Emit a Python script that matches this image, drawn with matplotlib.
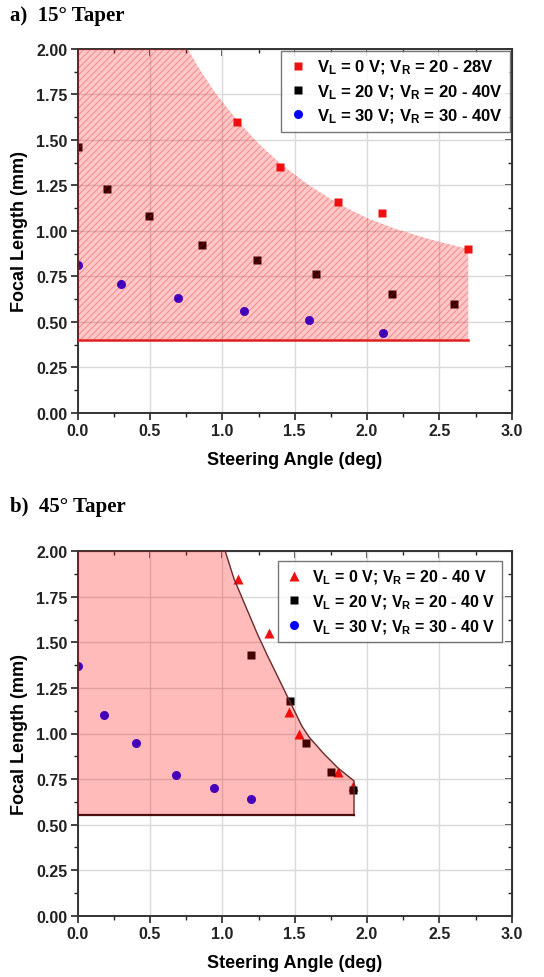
import matplotlib
matplotlib.use("Agg")
import matplotlib.pyplot as plt
from matplotlib.ticker import MultipleLocator

plt.rcParams['font.family'] = ['Liberation Sans', 'DejaVu Sans']
plt.rcParams['font.weight'] = 'bold'
plt.rcParams['mathtext.fontset'] = 'custom'
plt.rcParams['mathtext.rm'] = 'Liberation Sans:bold'
plt.rcParams['mathtext.bf'] = 'Liberation Sans:bold'
plt.rcParams['mathtext.it'] = 'Liberation Sans:bold'
plt.rcParams['mathtext.default'] = 'bf'
plt.rcParams['hatch.linewidth'] = 0.7

# ---------------- Panel a) 15° taper ----------------
a_red_x = [1.10, 1.40, 1.80, 2.10, 2.70]
a_red_y = [1.60, 1.35, 1.16, 1.10, 0.90]
a_blk_x = [0.00, 0.20, 0.49, 0.86, 1.24, 1.65, 2.17, 2.60]
a_blk_y = [1.46, 1.23, 1.08, 0.92, 0.84, 0.76, 0.65, 0.60]
a_blu_x = [0.00, 0.30, 0.69, 1.15, 1.60, 2.11]
a_blu_y = [0.81, 0.71, 0.63, 0.56, 0.51, 0.44]
a_bound_x = [0.00, 0.76, 0.85, 0.95, 1.10, 1.25, 1.40, 1.60, 1.80, 2.00, 2.20, 2.45, 2.70]
a_bound_y = [2.00, 2.00, 1.88, 1.76, 1.61, 1.48, 1.37, 1.25, 1.15, 1.07, 1.01, 0.95, 0.90]
a_floor = 0.40
a_labels = ['V$_{L}$ = 0 V; V$_{R}$ = 20 - 28V',
            'V$_{L}$ = 20 V; V$_{R}$ = 20 - 40V',
            'V$_{L}$ = 30 V; V$_{R}$ = 30 - 40V']

# ---------------- Panel b) 45° taper ----------------
b_red_x = [1.105, 1.32, 1.46, 1.53, 1.80, 1.90]
b_red_y = [1.85, 1.55, 1.12, 1.00, 0.79, 0.71]
b_blk_x = [1.20, 1.47, 1.58, 1.75, 1.90]
b_blk_y = [1.43, 1.18, 0.95, 0.79, 0.69]
b_blu_x = [0.00, 0.18, 0.40, 0.68, 0.94, 1.20]
b_blu_y = [1.37, 1.10, 0.95, 0.77, 0.70, 0.64]
b_bound_x = [0.00, 1.02, 1.08, 1.16, 1.24, 1.31, 1.39, 1.47, 1.55, 1.60, 1.70, 1.80, 1.91]
b_bound_y = [2.00, 2.00, 1.85, 1.70, 1.55, 1.43, 1.30, 1.17, 1.04, 0.98, 0.89, 0.81, 0.74]
b_floor = 0.55
b_labels = ['V$_{L}$ = 0 V; V$_{R}$ = 20 - 40 V',
            'V$_{L}$ = 20 V; V$_{R}$ = 20 - 40 V',
            'V$_{L}$ = 30 V; V$_{R}$ = 30 - 40 V']

x_ticks = [0.0, 0.5, 1.0, 1.5, 2.0, 2.5, 3.0]
y_ticks = [0.00, 0.25, 0.50, 0.75, 1.00, 1.25, 1.50, 1.75, 2.00]

W, H = 544, 978
fig = plt.figure(figsize=(W / 100, H / 100), dpi=100)

def frac_axes(x0, y_top, x1, y_bot):
    return fig.add_axes([x0 / W, 1 - y_bot / H, (x1 - x0) / W, (y_bot - y_top) / H])

ax1 = frac_axes(77.7, 50.0, 511.7, 413.7)
ax2 = frac_axes(77.7, 552.3, 511.7, 916.7)

def style(ax):
    ax.set_xlim(0, 3.0)
    ax.set_ylim(0, 2.0)
    ax.set_xticks(x_ticks)
    ax.set_yticks(y_ticks)
    ax.set_xticklabels([f'{v:.1f}' for v in x_ticks])
    ax.set_yticklabels([f'{v:.2f}' for v in y_ticks])
    ax.xaxis.set_minor_locator(MultipleLocator(0.25))
    ax.yaxis.set_minor_locator(MultipleLocator(0.125))
    ax.grid(True, which='major', color='#d9d9d9', lw=1.0, zorder=0)
    ax.set_axisbelow(True)
    ax.tick_params(which='major', direction='out', length=5, width=1.2,
                   labelsize=11.5, pad=2.5, colors='#222222')
    ax.tick_params(which='minor', direction='out', length=3, width=1.0, colors='#222222')
    for lbl in ax.get_xticklabels() + ax.get_yticklabels():
        lbl.set_fontweight('bold')
    for s in ax.spines.values():
        s.set_linewidth(1.4)
        s.set_color('#333333')
    secx = ax.secondary_xaxis('top')
    secx.set_xticks(x_ticks)
    secx.xaxis.set_minor_locator(MultipleLocator(0.25))
    secx.tick_params(which='major', direction='in', length=5, width=1.2, labeltop=False, colors='#222222')
    secx.tick_params(which='minor', direction='in', length=3, width=1.0, colors='#222222')
    secy = ax.secondary_yaxis('right')
    secy.set_yticks(y_ticks)
    secy.yaxis.set_minor_locator(MultipleLocator(0.125))
    secy.tick_params(which='major', direction='in', length=5, width=1.2, labelright=False, colors='#222222')
    secy.tick_params(which='minor', direction='in', length=3, width=1.0, colors='#222222')
    ax.set_xlabel('Steering Angle (deg)', fontsize=13, fontweight='bold', labelpad=9)
    ax.set_ylabel('Focal Length (mm)', fontsize=13, fontweight='bold', labelpad=6)

style(ax1)
style(ax2)

# Panel a points
ax1.plot(a_red_x, a_red_y, 's', color='#ee1111', ms=5.5, mec='none', zorder=2, label=a_labels[0])
ax1.plot(a_blk_x, a_blk_y, 's', color='black', ms=5.5, mec='none', zorder=2, label=a_labels[1])
ax1.plot(a_blu_x, a_blu_y, 'o', color='#0000ff', ms=6.5, mec='none', zorder=2, label=a_labels[2])
ax1.fill_between(a_bound_x, a_floor, a_bound_y, facecolor=(1, 0, 0, 0.22),
                 edgecolor=(0.85, 0.1, 0.1, 0.35), hatch='/////', lw=0, zorder=3)
ax1.plot([0, a_bound_x[-1]], [a_floor, a_floor], color='#e02020', lw=1.8, zorder=4)
leg1 = ax1.legend(loc='upper right', fontsize=12, frameon=True, fancybox=False,
                  borderaxespad=0.12, handletextpad=0.5, labelspacing=0.35,
                  handlelength=1.2, borderpad=0.42)
leg1.get_frame().set_edgecolor('#555555')
leg1.get_frame().set_linewidth(1.0)
leg1.set_zorder(6)

# Panel b points
ax2.plot(b_red_x, b_red_y, '^', color='#ee1111', ms=7.5, mec='none', zorder=2, label=b_labels[0])
ax2.plot(b_blk_x, b_blk_y, 's', color='black', ms=5.5, mec='none', zorder=2, label=b_labels[1])
ax2.plot(b_blu_x, b_blu_y, 'o', color='#0000ff', ms=6.5, mec='none', zorder=2, label=b_labels[2])
ax2.fill_between(b_bound_x, b_floor, b_bound_y, facecolor=(1, 0, 0, 0.27), lw=0, zorder=3)
ax2.plot(b_bound_x[1:] + [b_bound_x[-1]], b_bound_y[1:] + [b_floor],
         color='#6a2a2a', lw=1.0, zorder=4)
ax2.plot([0, b_bound_x[-1]], [b_floor, b_floor], color='#4a1010', lw=1.6, zorder=4)
leg2 = ax2.legend(loc='upper right', fontsize=11.5, frameon=True, fancybox=False,
                  borderaxespad=0.6, handletextpad=0.5, labelspacing=0.4,
                  handlelength=1.2, borderpad=0.42)
leg2.get_frame().set_edgecolor('#555555')
leg2.get_frame().set_linewidth(1.0)
leg2.set_zorder(6)

fig.text(10 / W, 1 - 16 / H, 'a)  15° Taper', family=['Liberation Serif', 'DejaVu Serif'],
         fontweight='bold', fontsize=15, va='center', ha='left')
fig.text(10 / W, 1 - 507 / H, 'b)  45° Taper', family=['Liberation Serif', 'DejaVu Serif'],
         fontweight='bold', fontsize=15, va='center', ha='left')

fig.savefig('out.png', dpi=100)
